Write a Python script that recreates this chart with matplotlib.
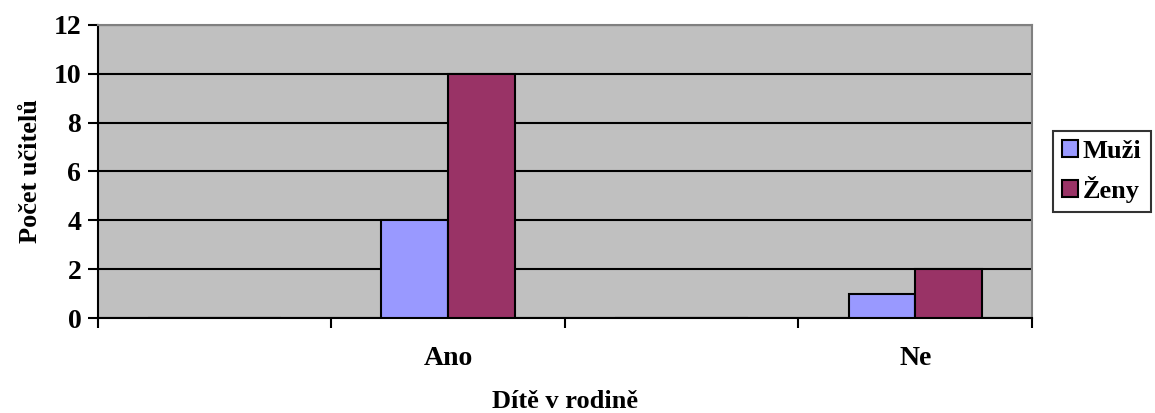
import numpy as np
import matplotlib.pyplot as plt

# Počet učitelů podle toho, zda mají dítě v rodině
kategorie = ["", "Ano", "", "Ne"]
muzi = [0, 4, 0, 1]
zeny = [0, 10, 0, 2]

plt.rcParams['font.family'] = ['Liberation Serif', 'DejaVu Serif']
plt.rcParams['font.weight'] = 'bold'

fig = plt.figure(figsize=(11.55, 4.13), dpi=100)
ax = fig.add_axes([0.0848, 0.230, 0.8087, 0.7095])

x = np.arange(len(kategorie))
sirka = 1 / 3.5
ax.bar(x - sirka / 2, muzi, sirka, color='#9999FF', edgecolor='black', linewidth=1.5, label='Muži', zorder=3)
ax.bar(x + sirka / 2, zeny, sirka, color='#993366', edgecolor='black', linewidth=1.5, label='Ženy', zorder=3)

ax.set_facecolor('#C0C0C0')
ax.set_xlim(-0.5, len(kategorie) - 0.5)
ax.set_ylim(0, 12)
ax.set_yticks(range(0, 13, 2))
ax.yaxis.grid(True, color='black', linewidth=1.5, zorder=1)
ax.set_axisbelow(True)

# hranice kategorií jako hlavní značky, popisky uprostřed
ax.set_xticks(np.arange(-0.5, len(kategorie), 1))
ax.set_xticklabels([])
ax.set_xticks(x, minor=True)
ax.set_xticklabels(kategorie, minor=True)
ax.tick_params(axis='x', which='minor', length=0, pad=20, labelsize=20)
ax.tick_params(axis='x', which='major', length=7, width=1.5, direction='out')
ax.tick_params(axis='y', length=7, width=1.5, direction='out', labelsize=20, pad=5)

for s in ['top', 'right']:
    ax.spines[s].set_color('#808080')
    ax.spines[s].set_linewidth(1.5)
for s in ['left', 'bottom']:
    ax.spines[s].set_color('black')
    ax.spines[s].set_linewidth(1.5)

ax.set_ylabel('Počet učitelů', fontsize=19, fontweight='bold', labelpad=8)
ax.set_xlabel('Dítě v rodině', fontsize=19, fontweight='bold', labelpad=14)

leg = ax.legend(loc='center left', bbox_to_anchor=(1.022, 0.5), fontsize=19,
                frameon=True, fancybox=False, edgecolor='black',
                handlelength=0.6, handleheight=0.6, handletextpad=0.2,
                borderpad=0.35, labelspacing=0.5, borderaxespad=0)
leg.get_frame().set_linewidth(1.5)

plt.savefig('out.png', dpi=100)
